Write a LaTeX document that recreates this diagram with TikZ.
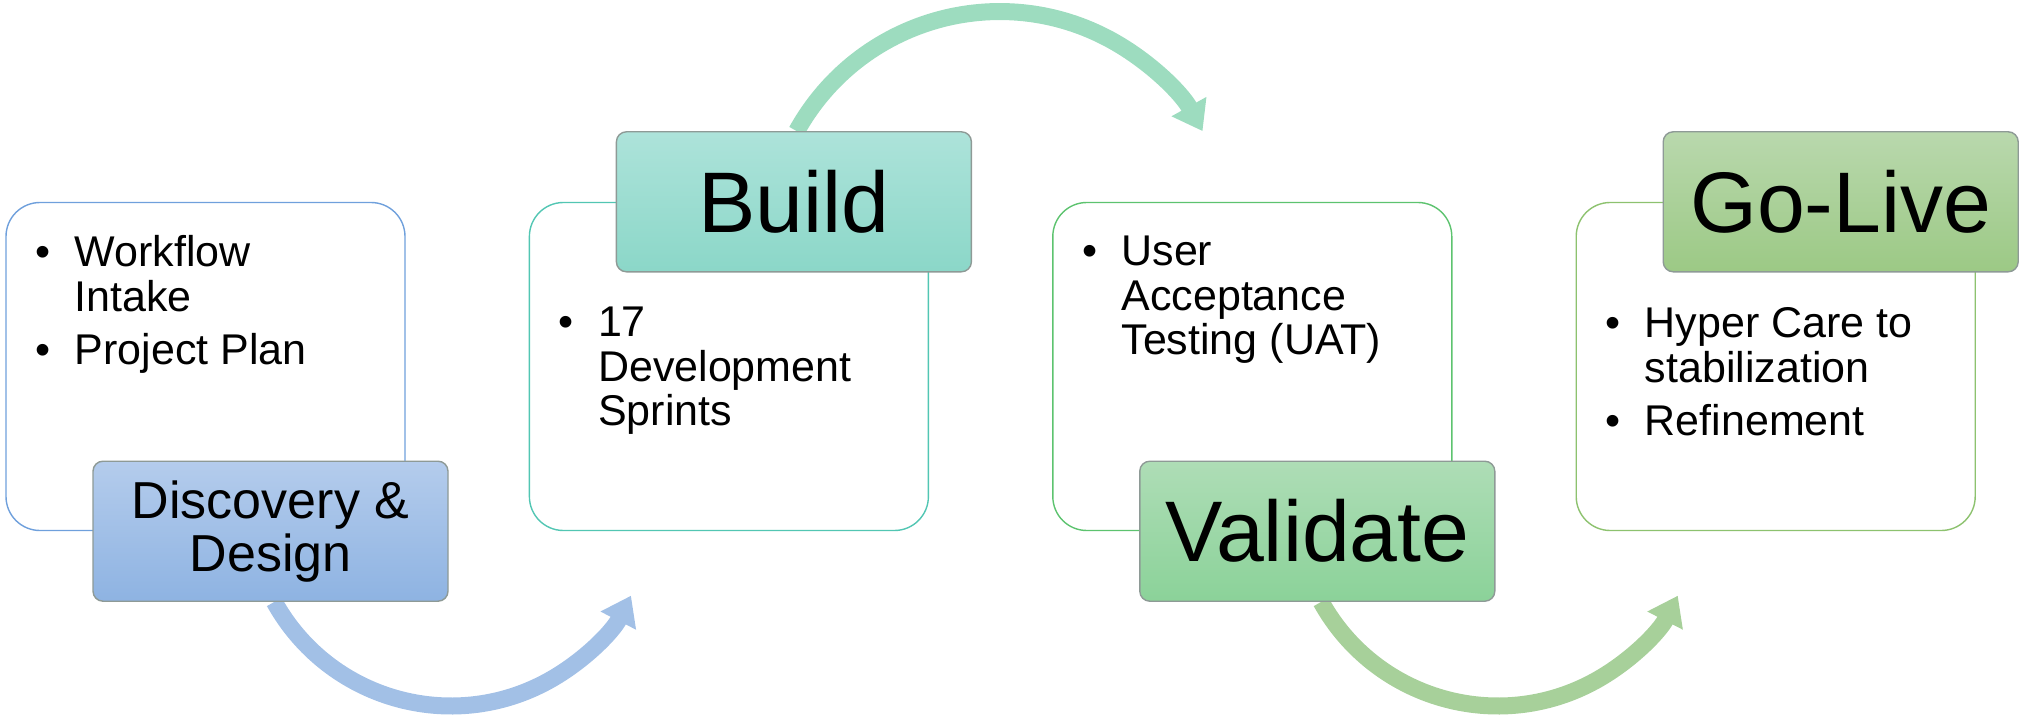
\documentclass[tikz,border=0pt]{standalone}
\usepackage{fontspec}
\setmainfont{Liberation Sans}
\usetikzlibrary{positioning,arrows.meta}

\definecolor{discline}{HTML}{6FA0DC}
\definecolor{buildline}{HTML}{52C6B3}
\definecolor{validline}{HTML}{5DC36F}
\definecolor{liveline}{HTML}{8DC26F}
\definecolor{disctop}{HTML}{B4CCEC}
\definecolor{discbot}{HTML}{8EB3E2}
\definecolor{buildtop}{HTML}{ADE3DA}
\definecolor{buildbot}{HTML}{8BD7C8}
\definecolor{validtop}{HTML}{AEDDB6}
\definecolor{validbot}{HTML}{8BD299}
\definecolor{livetop}{HTML}{B9D8AD}
\definecolor{livebot}{HTML}{9CC985}
\definecolor{discarrow}{HTML}{A2C0E6}
\definecolor{buildarrow}{HTML}{9DDCBF}
\definecolor{validarrow}{HTML}{A7D09A}
\definecolor{phaseedge}{HTML}{8E9A96}

\newcommand\bitem{\makebox[19.75pt][l]{\textbullet}}

\pgfdeclarelayer{background}
\pgfsetlayers{background,main}

\tikzset{
  card/.style={draw, line width=0.7pt, rounded corners=17pt, minimum width=199.5pt, minimum height=164pt},
  phase/.style={draw=phaseedge, line width=0.7pt, rounded corners=5pt, minimum width=177.5pt, minimum height=70pt, inner sep=0pt, font=\fontsize{43}{45}\selectfont},
  notes/.style={anchor=base west, inner sep=0pt, font=\fontsize{21.5}{22.25}\selectfont},
  swoop/.style={line width=8.5pt, -{Triangle[width=19pt,length=14pt]}}
}

\begin{document}
\begin{tikzpicture}[x=0.5pt,y=0.5pt,node distance=61.5pt]
\useasboundingbox (0,0) rectangle (2019,719);

% white cards
\node[card, draw=discline] (disc) at (205.5,352.5) {};
\node[card, draw=buildline, right=of disc] (build) {};
\node[card, draw=validline, right=of build] (valid) {};
\node[card, draw=liveline, right=of valid] (live) {};

% phase titles
\node[phase, top color=disctop, bottom color=discbot, anchor=east, align=center, font=\fontsize{26}{26.5}\selectfont] (discl) at ([xshift=21.5pt]disc.south east) {Discovery \&\\Design};
\node[phase, top color=buildtop, bottom color=buildbot, anchor=east] (buildl) at ([xshift=21.5pt]build.north east) {Build};
\node[phase, top color=validtop, bottom color=validbot, anchor=east] (validl) at ([xshift=21.5pt]valid.south east) {Validate};
\node[phase, top color=livetop, bottom color=livebot, anchor=east] (livel) at ([xshift=21.5pt]live.north east) {Go-Live};

% bullet notes
\node[notes] (discn) at ([xshift=14.75pt,yshift=-32.5pt]disc.north west)
  {\begin{tabular}[t]{@{}l@{}l@{}}\bitem & Workflow\\ & Intake\\[4.25pt]\bitem & Project Plan\end{tabular}};
\node[notes] (buildn) at ([xshift=14.75pt,yshift=-67.5pt]build.north west)
  {\begin{tabular}[t]{@{}l@{}l@{}}\bitem & 17\\ & Development\\ & Sprints\end{tabular}};
\node[notes] (validn) at ([xshift=14.75pt,yshift=-32pt]valid.north west)
  {\begin{tabular}[t]{@{}l@{}l@{}}\bitem & User\\ & Acceptance\\ & Testing (UAT)\end{tabular}};
\node[notes] (liven) at ([xshift=14.75pt,yshift=-68pt]live.north west)
  {\begin{tabular}[t]{@{}l@{}l@{}}\bitem & Hyper Care to\\ & stabilization\\[4.25pt]\bitem & Refinement\end{tabular}};

% arrows between phases
\begin{pgfonlayer}{background}
\draw[swoop, color=discarrow] ([xshift=91pt]discl.south west) arc[start angle=209, end angle=333, radius=101pt];
\draw[swoop, color=buildarrow] ([xshift=90.5pt]buildl.north west) arc[start angle=151, end angle=29, radius=116pt];
\draw[swoop, color=validarrow] ([xshift=91pt]validl.south west) arc[start angle=209, end angle=333, radius=101pt];
\end{pgfonlayer}
\end{tikzpicture}
\end{document}
